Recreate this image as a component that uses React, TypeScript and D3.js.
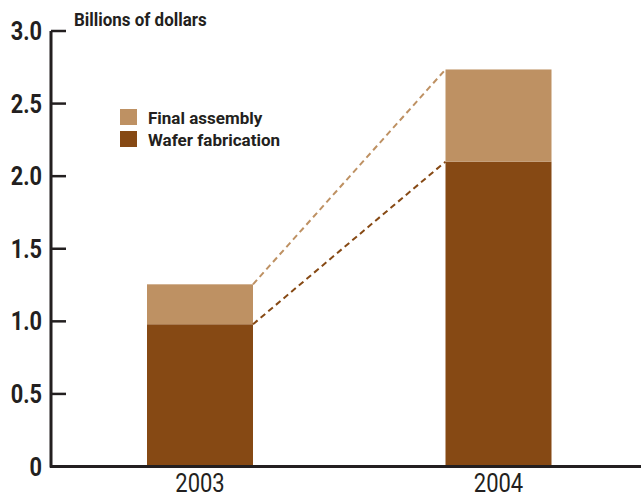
import React from "react";
import * as d3 from "d3";

const years = ["2003", "2004"];
const waferFab = [0.98, 2.1];
const finalAssembly = [0.275, 0.635];
const yTicks = [0, 0.5, 1.0, 1.5, 2.0, 2.5, 3.0];
const yTickLabels = ["0", "0.5", "1.0", "1.5", "2.0", "2.5", "3.0"];
const seriesNames = ["Final assembly", "Wafer fabrication"];
const colors = { light: "#BE9163", dark: "#864914" };

const W = 641, H = 498;
const FONT = "Roboto, 'Liberation Sans', sans-serif";

export default function App() {
  const y = d3.scaleLinear().domain([0, 3]).range([466.5, 31]);
  const x = d3.scalePoint().domain(years).range([200, 498.5]);
  const bw = 106;
  const tops = years.map((yr, i) => ({
    x0: x(yr)! - bw / 2,
    x1: x(yr)! + bw / 2,
    wTop: y(waferFab[i]),
    fTop: y(waferFab[i] + finalAssembly[i]),
  }));

  return (
    <svg width={W} height={H} style={{ position: "absolute", left: 0, top: 0 }}>
      <rect width={W} height={H} fill="#fff" />
      {years.map((yr, i) => (
        <g key={yr}>
          <rect x={x(yr)! - bw / 2} width={bw} y={y(waferFab[i])} height={y(0) - y(waferFab[i])} fill={colors.dark} />
          <rect x={x(yr)! - bw / 2} width={bw} y={y(waferFab[i] + finalAssembly[i])} height={y(waferFab[i]) - y(waferFab[i] + finalAssembly[i])} fill={colors.light} />
          <text
            transform={`translate(${x(yr)!},492) scale(0.88,1)`}
            textAnchor="middle"
            fontFamily={FONT}
            fontSize={25}
            fill="#231f20"
          >
            {yr}
          </text>
        </g>
      ))}
      <line x1={tops[0].x1} y1={tops[0].fTop} x2={tops[1].x0} y2={tops[1].fTop} stroke={colors.light} strokeWidth={2} strokeDasharray="6,4" />
      <line x1={tops[0].x1} y1={tops[0].wTop} x2={tops[1].x0} y2={tops[1].wTop} stroke={colors.dark} strokeWidth={2} strokeDasharray="6,4" />

      <line x1={51} x2={51} y1={y(3)} y2={y(0) + 1} stroke="#231f20" strokeWidth={3} />
      <line x1={50} x2={641} y1={y(0)} y2={y(0)} stroke="#231f20" strokeWidth={3} />
      {yTicks.map((t, i) => (
        <g key={t}>
          <line x1={51} x2={66} y1={y(t)} y2={y(t)} stroke="#231f20" strokeWidth={2.5} />
          <text
            transform={`translate(42,${y(t) + 9}) scale(0.87,1)`}
            textAnchor="end"
            fontFamily={FONT}
            fontWeight="bold"
            fontSize={25}
            fill="#231f20"
          >
            {yTickLabels[i]}
          </text>
        </g>
      ))}
      <text transform="translate(74,26) scale(0.97,1)" fontFamily={FONT} fontWeight="bold" fontSize={17.5} fill="#231f20">
        Billions of dollars
      </text>
      {seriesNames.map((n, i) => (
        <g key={n}>
          <rect x={120} y={109 + i * 22} width={17} height={16} fill={i === 0 ? colors.light : colors.dark} />
          <text transform={`translate(148,${123.5 + i * 22}) scale(1.0,1)`} fontFamily={FONT} fontWeight="bold" fontSize={17} fill="#231f20">
            {n}
          </text>
        </g>
      ))}
    </svg>
  );
}
